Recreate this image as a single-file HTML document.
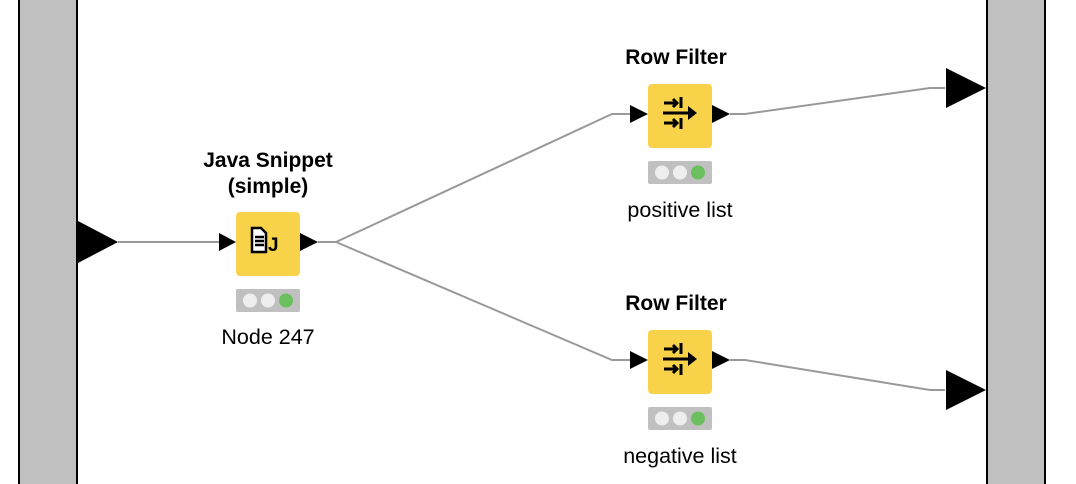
<!DOCTYPE html>
<html><head><meta charset="utf-8"><style>
html,body{margin:0;padding:0;background:#fff;}
svg{display:block}
text{font-family:"Liberation Sans",sans-serif;}
</style></head><body>
<svg width="1076" height="484" viewBox="0 0 1076 484">
<rect x="0" y="0" width="1076" height="484" fill="#fff"/>
<rect x="19" y="-2" width="58" height="490" fill="#c0c0c0" stroke="#000" stroke-width="2"/>
<rect x="987" y="-2" width="58" height="490" fill="#c0c0c0" stroke="#000" stroke-width="2"/>
<polygon points="78,221 118,242 78,263" fill="#000"/>
<polygon points="946,68 986,88 946,108" fill="#000"/>
<polygon points="946,370 986,390 946,410" fill="#000"/>
<g fill="none" stroke="#999" stroke-width="2">
<polyline points="118,242 220,242"/>
<polyline points="318,242 336,242 612,114 630,114"/>
<polyline points="336,242 612,360 630,360"/>
<polyline points="730,114 745,114 930,88 945,88"/>
<polyline points="730,360 745,360 930,390 945,390"/>
</g>
<polygon points="219,233 236,242 219,251" fill="#000"/>
<polygon points="300,233 318,242 300,251" fill="#000"/>
<rect x="236" y="212" width="64" height="64" rx="4" fill="#f8d248"/>
<path d="M252,228 h9 l5,5 v19 h-14z" fill="#fff" stroke="#000" stroke-width="2.5"/>
<path d="M255,237 h9 M255,241 h9 M255,245 h9" stroke="#000" stroke-width="2.5"/>
<text x="268" y="251" font-size="19" font-weight="bold">J</text>
<rect x="236" y="289" width="64" height="23" fill="#c0c0c0" rx="2"/>
<circle cx="250" cy="300.5" r="7" fill="#eee"/><circle cx="268" cy="300.5" r="7" fill="#eee"/><circle cx="286" cy="300.5" r="7" fill="#6cbf5e"/>
<text x="268" y="167" font-size="21" font-weight="bold" text-anchor="middle">Java Snippet</text>
<text x="268" y="193" font-size="21" font-weight="bold" text-anchor="middle">(simple)</text>
<text x="268" y="344" font-size="21.5" text-anchor="middle">Node 247</text>
<g id="rf">
<polygon points="630,105 648,114 630,123" fill="#000"/>
<polygon points="712,105 730,114 712,123" fill="#000"/>
<rect x="648" y="84" width="64" height="64" rx="4" fill="#f8d248"/>
<g stroke="#000" stroke-width="3" fill="none">
<path d="M664,103 h13 M673,99 l4,4 l-4,4 M681,97 v11"/>
<path d="M663,113 h30"/>
<path d="M664,123 h13 M673,119 l4,4 l-4,4 M681,118 v11"/>
</g>
<polygon points="688,106 697,113 688,120" fill="#000"/>
<rect x="648" y="161" width="64" height="23" fill="#c0c0c0" rx="2"/>
<circle cx="662" cy="172.5" r="7" fill="#eee"/><circle cx="680" cy="172.5" r="7" fill="#eee"/><circle cx="698" cy="172.5" r="7" fill="#6cbf5e"/>
</g>
<use href="#rf" transform="translate(0,246)"/>
<text x="676" y="64" font-size="21" font-weight="bold" text-anchor="middle">Row Filter</text>
<text x="680" y="217" font-size="21.5" text-anchor="middle">positive list</text>
<text x="676" y="310" font-size="21" font-weight="bold" text-anchor="middle">Row Filter</text>
<text x="680" y="463" font-size="21.5" text-anchor="middle">negative list</text>
</svg>
</body></html>
